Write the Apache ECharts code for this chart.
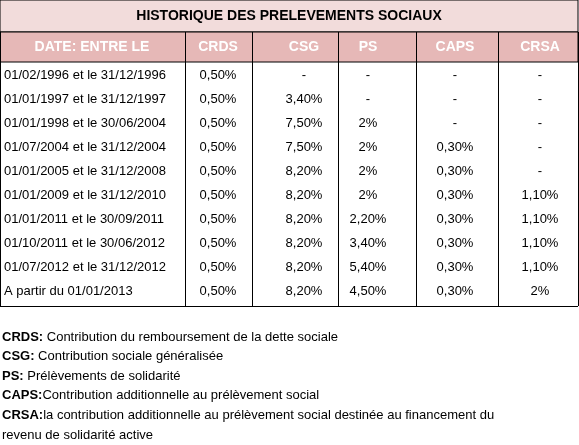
<!DOCTYPE html>
<html><head><meta charset="utf-8">
<script src="https://cdn.jsdelivr.net/npm/echarts@6/dist/echarts.min.js"></script>
<style>html,body{margin:0;padding:0;background:#fff}#c{width:579px;height:445px}</style>
</head><body><div id="c"></div>
<script>
var title = 'HISTORIQUE DES PRELEVEMENTS SOCIAUX';
var headers = ['DATE: ENTRE LE', 'CRDS', 'CSG', 'PS', 'CAPS', 'CRSA'];
var periods = ['01/02/1996 et le 31/12/1996', '01/01/1997 et le 31/12/1997', '01/01/1998 et le 30/06/2004',
  '01/07/2004 et le 31/12/2004', '01/01/2005 et le 31/12/2008', '01/01/2009 et le 31/12/2010',
  '01/01/2011 et le 30/09/2011', '01/10/2011 et le 30/06/2012', '01/07/2012 et le 31/12/2012', 'A partir du 01/01/2013'];
var crds = ['0,50%', '0,50%', '0,50%', '0,50%', '0,50%', '0,50%', '0,50%', '0,50%', '0,50%', '0,50%'];
var csg = ['-', '3,40%', '7,50%', '7,50%', '8,20%', '8,20%', '8,20%', '8,20%', '8,20%', '8,20%'];
var ps = ['-', '-', '2%', '2%', '2%', '2%', '2,20%', '3,40%', '5,40%', '4,50%'];
var caps = ['-', '-', '-', '0,30%', '0,30%', '0,30%', '0,30%', '0,30%', '0,30%', '0,30%'];
var crsa = ['-', '-', '-', '-', '-', '1,10%', '1,10%', '1,10%', '1,10%', '2%'];
var notesBold = ['CRDS:', 'CSG:', 'PS:', 'CAPS:', 'CRSA:', ''];
var notesText = [' Contribution du remboursement de la dette sociale', ' Contribution sociale généralisée',
  ' Prélèvements de solidarité', 'Contribution additionnelle au prélèvement social',
  'la contribution additionnelle au prélèvement social destinée au financement du', 'revenu de solidarité active'];

var chart = echarts.init(document.getElementById('c'));
var font = 'Liberation Sans, Arial, sans-serif';
var colEdges = [0, 185, 252, 338, 416, 498, 578];
var colCenters = [null, 218, 304, 368, 455, 540];
var titleH = 32, headH = 30, rowH = 24, top0 = titleH + headH;
var g = [];
g.push({type: 'rect', shape: {x: 0, y: 0, width: 578, height: titleH}, style: {fill: '#f2dcdb', stroke: '#000', lineWidth: 1}});
g.push({type: 'text', x: 289, y: titleH / 2, style: {text: title, font: 'bold 14px ' + font, fill: '#000', align: 'center', verticalAlign: 'middle'}});
g.push({type: 'rect', shape: {x: 0, y: titleH, width: 578, height: headH}, style: {fill: '#e6b8b7', stroke: '#000', lineWidth: 1}});
headers.forEach(function (h, i) {
  var cx = i === 0 ? 92 : colCenters[i];
  g.push({type: 'text', x: cx, y: titleH + headH / 2, style: {text: h, font: 'bold 14px ' + font, fill: '#fff', align: 'center', verticalAlign: 'middle'}});
});
var tableBottom = top0 + rowH * periods.length + 4;
colEdges.forEach(function (x) {
  g.push({type: 'line', shape: {x1: x + 0.5, y1: titleH, x2: x + 0.5, y2: tableBottom}, style: {stroke: '#000', lineWidth: 1}});
});
g.push({type: 'line', shape: {x1: 0, y1: tableBottom + 0.5, x2: 578, y2: tableBottom + 0.5}, style: {stroke: '#000', lineWidth: 1}});
var cols = [crds, csg, ps, caps, crsa];
periods.forEach(function (p, r) {
  var cy = top0 + rowH * r + rowH / 2 + 1;
  g.push({type: 'text', x: 4, y: cy, style: {text: p, font: '13px ' + font, fill: '#000', align: 'left', verticalAlign: 'middle'}});
  cols.forEach(function (col, c) {
    g.push({type: 'text', x: colCenters[c + 1], y: cy, style: {text: col[r], font: '13px ' + font, fill: '#000', align: 'center', verticalAlign: 'middle'}});
  });
});
notesText.forEach(function (t, i) {
  var y = 337 + i * 19.6;
  g.push({type: 'text', x: 2, y: y, style: {text: '{b|' + notesBold[i] + '}{n|' + t + '}', font: '13px ' + font, verticalAlign: 'middle',
    rich: {b: {font: 'bold 13px ' + font, fill: '#000'}, n: {font: '13px ' + font, fill: '#000'}}}});
});
chart.setOption({animation: false, graphic: {elements: g}});
</script></body></html>
